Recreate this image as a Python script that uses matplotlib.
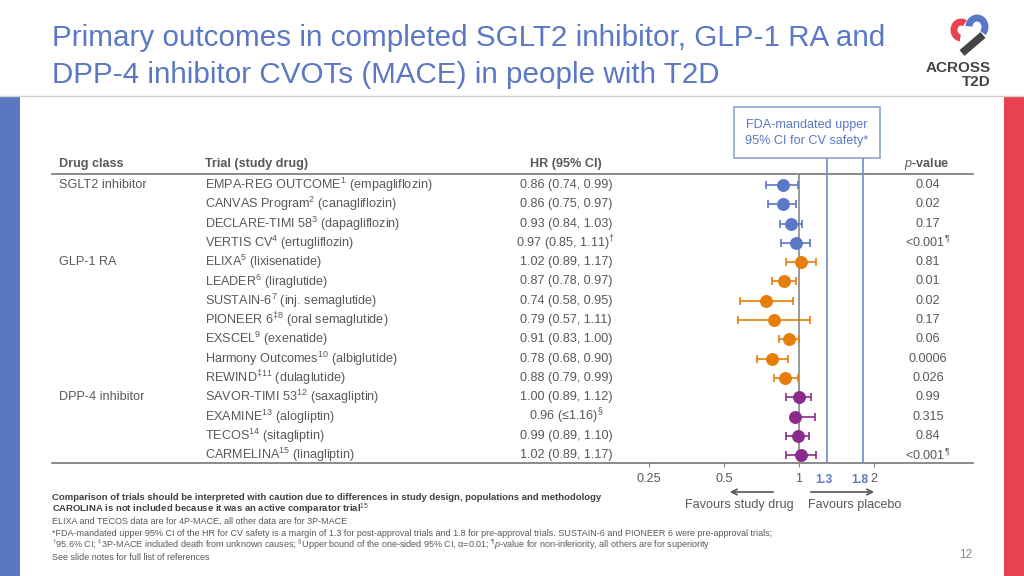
import numpy as np
import matplotlib
matplotlib.use('Agg')
import matplotlib.pyplot as plt
from matplotlib.patches import Rectangle, Arc
from matplotlib.transforms import blended_transform_factory

plt.rcParams['font.family'] = ['Liberation Sans', 'DejaVu Sans']
plt.rcParams['mathtext.fontset'] = 'custom'
plt.rcParams['mathtext.rm'] = 'Liberation Sans'
plt.rcParams['mathtext.it'] = 'Liberation Sans:italic'
plt.rcParams['mathtext.bf'] = 'Liberation Sans:bold'

# data
drug_class = ['SGLT2 inhibitor'] * 4 + ['GLP-1 RA'] * 7 + ['DPP-4 inhibitor'] * 4
trials = [
    r'EMPA-REG OUTCOME$^1$ (empagliflozin)',
    r'CANVAS Program$^2$ (canagliflozin)',
    r'DECLARE-TIMI 58$^3$ (dapagliflozin)',
    r'VERTIS CV$^4$ (ertugliflozin)',
    r'ELIXA$^5$ (lixisenatide)',
    r'LEADER$^6$ (liraglutide)',
    r'SUSTAIN-6$^7$ (inj. semaglutide)',
    r'PIONEER 6$^{‡8}$ (oral semaglutide)',
    r'EXSCEL$^9$ (exenatide)',
    r'Harmony Outcomes$^{10}$ (albiglutide)',
    r'REWIND$^{‡11}$ (dulaglutide)',
    r'SAVOR-TIMI 53$^{12}$ (saxagliptin)',
    r'EXAMINE$^{13}$ (alogliptin)',
    r'TECOS$^{14}$ (sitagliptin)',
    r'CARMELINA$^{15}$ (linagliptin)',
]
hr = [0.86, 0.86, 0.93, 0.97, 1.02, 0.87, 0.74, 0.79, 0.91, 0.78, 0.88, 1.00, 0.96, 0.99, 1.02]
ci_lo = [0.74, 0.75, 0.84, 0.85, 0.89, 0.78, 0.58, 0.57, 0.83, 0.68, 0.79, 0.89, 0.96, 0.89, 0.89]
ci_hi = [0.99, 0.97, 1.03, 1.11, 1.17, 0.97, 0.95, 1.11, 1.00, 0.90, 0.99, 1.12, 1.16, 1.10, 1.17]
hr_text = [
    '0.86 (0.74, 0.99)', '0.86 (0.75, 0.97)', '0.93 (0.84, 1.03)', r'0.97 (0.85, 1.11)$^†$',
    '1.02 (0.89, 1.17)', '0.87 (0.78, 0.97)', '0.74 (0.58, 0.95)', '0.79 (0.57, 1.11)',
    '0.91 (0.83, 1.00)', '0.78 (0.68, 0.90)', '0.88 (0.79, 0.99)', '1.00 (0.89, 1.12)',
    r'0.96 (≤1.16)$^§$', '0.99 (0.89, 1.10)', '1.02 (0.89, 1.17)',
]
p_values = ['0.04', '0.02', '0.17', r'<0.001$^¶$', '0.81', '0.01', '0.02', '0.17',
            '0.06', '0.0006', '0.026', '0.99', '0.315', '0.84', r'<0.001$^¶$']
fda_margins = [1.3, 1.8]
class_colors = {'SGLT2 inhibitor': '#5b78c8', 'GLP-1 RA': '#e67e0a', 'DPP-4 inhibitor': '#8a2b8c'}

footnotes_bold = [
    'Comparison of trials should be interpreted with caution due to differences in study design, populations and methodology',
    r'CAROLINA is not included because it was an active comparator trial$^{15}$',
]
footnotes = [
    'ELIXA and TECOS data are for 4P-MACE, all other data are for 3P-MACE',
    '*FDA-mandated upper 95% CI of the HR for CV safety is a margin of 1.3 for post-approval trials and 1.8 for '
    'pre-approval trials. SUSTAIN-6 and PIONEER 6 were pre-approval trials;',
    r'$^†$95.6% CI; $^‡$3P-MACE included death from unknown causes; $^§$Upper bound of the one-sided 95% CI, '
    r'α=0.01; $^¶$$\it{p}$-value for non-inferiority, all others are for superiority',
    'See slide notes for full list of references',
]

TXT = '#595959'
BLUE = '#5b78c4'
FS = 9.1

fig = plt.figure(figsize=(10.24, 5.76), dpi=100)
bg = fig.add_axes([0, 0, 1, 1])
bg.set_xlim(0, 1024)
bg.set_ylim(576, 0)
bg.axis('off')

# title
bg.text(52, 38, 'Primary outcomes in completed SGLT2 inhibitor, GLP-1 RA and', fontsize=21.3,
        color=BLUE, va='center')
bg.text(52, 75, 'DPP-4 inhibitor CVOTs (MACE) in people with T2D', fontsize=21.3,
        color=BLUE, va='center')
bg.plot([0, 1024], [96, 96], color='#d0d0d0', lw=1)
bg.add_patch(Rectangle((0, 97), 20, 479, color='#5a78c0', lw=0))
bg.add_patch(Rectangle((1004, 97), 20, 479, color='#e8414f', lw=0))

# logo (rough)
bg.add_patch(Arc((961, 30), 14, 16, theta1=95, theta2=300, color='#e8414f', lw=5))
bg.add_patch(Arc((977, 27), 16, 18, theta1=-175, theta2=45, color='#5b78c8', lw=5))
bg.plot([962, 983], [53, 35], color='#444444', lw=5.5, solid_capstyle='butt')
bg.text(991, 68, 'ACROSS', fontsize=11, fontweight='bold', color='#444444', ha='right',
        va='center')
bg.text(991, 82, 'T2D', fontsize=11, fontweight='bold', color='#444444', ha='right', va='center')

# forest axes
n = len(trials)
ax = fig.add_axes([600 / 1024, 1 - 463 / 576, 373 / 1024, 289 / 576])
ax.patch.set_alpha(0)
ax.set_xscale('log')
ax.set_xlim(0.159, 4.99)
ax.set_ylim(n - 0.59, -0.57)
for s in ax.spines.values():
    s.set_visible(False)
ax.set_yticks([])
ax.set_xticks([0.25, 0.5, 1, 2])
ax.set_xticklabels(['0.25', '0.5', '1', '2'])
ax.xaxis.set_minor_locator(matplotlib.ticker.NullLocator())
ax.tick_params(axis='x', length=3, color='#888888', labelsize=FS, labelcolor=TXT, pad=4)

ax.axvline(1, color='#888888', lw=1.2, zorder=1)
ax.vlines(fda_margins, ymin=n - 0.59, ymax=-1.4, color='#7b93cc', lw=1.3, clip_on=False, zorder=1)
for m in fda_margins:
    ax.text(m / 1.03, n - 0.59, f'\n{m}', fontsize=8.8, fontweight='bold', color=BLUE,
            ha='center', va='top', linespacing=0.85)

y = np.arange(n)
for i in range(n):
    c = class_colors[drug_class[i]]
    ax.errorbar(hr[i], y[i], xerr=[[hr[i] - ci_lo[i]], [ci_hi[i] - hr[i]]], fmt='o', color=c,
                ms=8.3, elinewidth=1.2, capsize=3, capthick=1.2, zorder=3)

# table text
tr = blended_transform_factory(bg.transData, ax.transData)
for i in range(n):
    if i == 0 or drug_class[i] != drug_class[i - 1]:
        ax.text(59, y[i], drug_class[i], transform=tr, fontsize=FS, color=TXT, va='center')
    ax.text(205, y[i], trials[i], transform=tr, fontsize=FS, color=TXT, va='center')
    ax.text(566, y[i], hr_text[i], transform=tr, fontsize=FS, color=TXT, va='center', ha='center')
    ax.text(928, y[i], p_values[i], transform=tr, fontsize=FS, color=TXT, va='center', ha='center')

# header
bg.text(59, 164, 'Drug class', fontsize=FS, fontweight='bold', color=TXT, va='center')
bg.text(205, 164, 'Trial (study drug)', fontsize=FS, fontweight='bold', color=TXT, va='center')
bg.text(566, 164, 'HR (95% CI)', fontsize=FS, fontweight='bold', color=TXT, va='center', ha='center')
bg.text(949, 164, r'$\mathbf{\it{p}}$-value', fontsize=FS, fontweight='bold', color=TXT,
        va='center', ha='right')
bg.plot([52, 973], [174, 174], color='#777777', lw=1.2)
bg.plot([52, 973], [463, 463], color='#777777', lw=1.2)

# FDA box
bg.add_patch(Rectangle((734, 107), 146, 51, facecolor='white', edgecolor='#8fa3d4', lw=1.2))
bg.text(807, 133, 'FDA-mandated upper\n95% CI for CV safety*', fontsize=FS, color=BLUE,
        ha='center', va='center', linespacing=1.35)

# favours arrows
bg.annotate('', xy=(727, 492), xytext=(776, 492),
            arrowprops=dict(arrowstyle='->', color='#555555', lw=1.2))
bg.annotate('', xy=(877, 492), xytext=(808, 492),
            arrowprops=dict(arrowstyle='->', color='#555555', lw=1.2))
bg.text(739, 505, 'Favours study drug', fontsize=FS, color=TXT, ha='center', va='center')
bg.text(855, 505, 'Favours placebo', fontsize=FS, color=TXT, ha='center', va='center')

# footnotes
fn_font = ['Liberation Sans Narrow', 'Liberation Sans', 'DejaVu Sans']
for k, t in enumerate(footnotes_bold):
    bg.text(52, 498 + 11.5 * k, t, fontsize=6.8, fontweight='bold', color='#404040', va='center',
            family=fn_font)
for k, t in enumerate(footnotes):
    bg.text(52, 521 + 12 * k, t, fontsize=6.5, color=TXT, va='center', family=fn_font)
bg.text(966, 555, '12', fontsize=8.5, color='#888888', ha='center', va='center')

fig.savefig('out.png', dpi=100)
